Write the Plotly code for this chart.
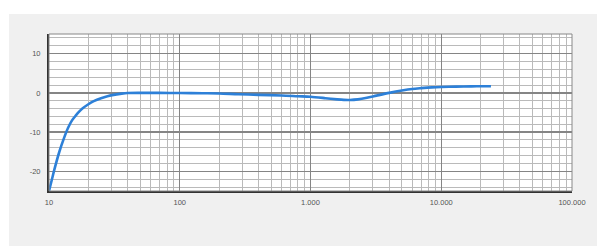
import plotly.graph_objects as go

freq_hz = [10, 10.5, 11, 12, 13, 14, 15, 16, 17, 18, 20, 22, 25, 28, 32, 36, 40, 50, 70, 100,
           150, 200, 280, 400, 600, 800, 1000, 1300, 1600, 1800, 2000, 2300, 2700, 3200, 4000,
           5000, 6000, 7000, 8500, 10000, 13000, 17000, 21000, 24000]
level_db = [-25, -22.2, -19.5, -15.0, -11.6, -8.9, -7.0, -5.8, -4.8, -4.0, -2.9, -2.1, -1.35, -0.85,
            -0.45, -0.2, -0.05, 0, 0, -0.05, -0.1, -0.15, -0.35, -0.5, -0.65, -0.85, -1.0, -1.35,
            -1.65, -1.78, -1.8, -1.65, -1.25, -0.7, 0.0, 0.6, 1.0, 1.2, 1.4, 1.5, 1.6, 1.65,
            1.7, 1.7]

x_tickvals = [10, 100, 1000, 10000, 100000]
x_ticktext = ["10", "100", "1.000", "10.000", "100.000"]
y_tickvals = [10, 0, -10, -20]
y_ticktext = ["10", "0", "-10", "-20"]

W, H = 597, 246
L, R, T, B = 49, 25, 34, 55
pw, ph = W - L - R, H - T - B

def px(x):
    return (x - L) / pw

def py(y):
    return (H - B - y) / ph

fig = go.Figure()
fig.add_trace(go.Scatter(
    x=freq_hz, y=level_db, mode="lines",
    line=dict(color="#2d80d8", width=2.6, shape="spline", smoothing=0.8),
    hoverinfo="skip", showlegend=False,
))

fig.update_layout(
    width=W, height=H,
    margin=dict(l=L, r=R, t=T, b=B, autoexpand=False),
    paper_bgcolor="#f0f0f0",
    plot_bgcolor="#ffffff",
    font=dict(family="Liberation Sans, Arial, sans-serif", size=7.5, color="#555555"),
    xaxis=dict(
        type="log", range=[1, 5],
        tickvals=x_tickvals, ticktext=x_ticktext,
        showgrid=True, gridcolor="#858585", gridwidth=1.4,
        minor=dict(dtick="D1", showgrid=True, gridcolor="#bababa", gridwidth=1),
        showline=True, linecolor="#333333", linewidth=2, mirror=False,
        ticks="", zeroline=False, ticklabelstandoff=3, automargin=False,
    ),
    yaxis=dict(
        range=[-25, 15],
        tickvals=y_tickvals, ticktext=y_ticktext,
        showgrid=True, gridcolor="#858585", gridwidth=1.4,
        minor=dict(dtick=2, tick0=0, showgrid=True, gridcolor="#bababa", gridwidth=1),
        showline=True, linecolor="#333333", linewidth=2, mirror=False,
        ticks="", zeroline=False, ticklabelstandoff=5, automargin=False,
    ),
    shapes=[
        dict(type="rect", xref="paper", yref="paper", x0=px(0), x1=px(W), y0=py(0), y1=py(14),
             fillcolor="#ffffff", line=dict(width=0), layer="below"),
        dict(type="rect", xref="paper", yref="paper", x0=px(0), x1=px(9), y0=py(0), y1=py(H),
             fillcolor="#ffffff", line=dict(width=0), layer="below"),
        dict(type="rect", xref="paper", yref="paper", x0=0, x1=1, y0=0, y1=1,
             line=dict(color="#888888", width=1), layer="above"),
    ],
)

fig.write_html(
    "out.html",
    config={"displayModeBar": False, "staticPlot": True},
    post_script="document.body.style.margin='0';document.body.style.padding='0';",
)
